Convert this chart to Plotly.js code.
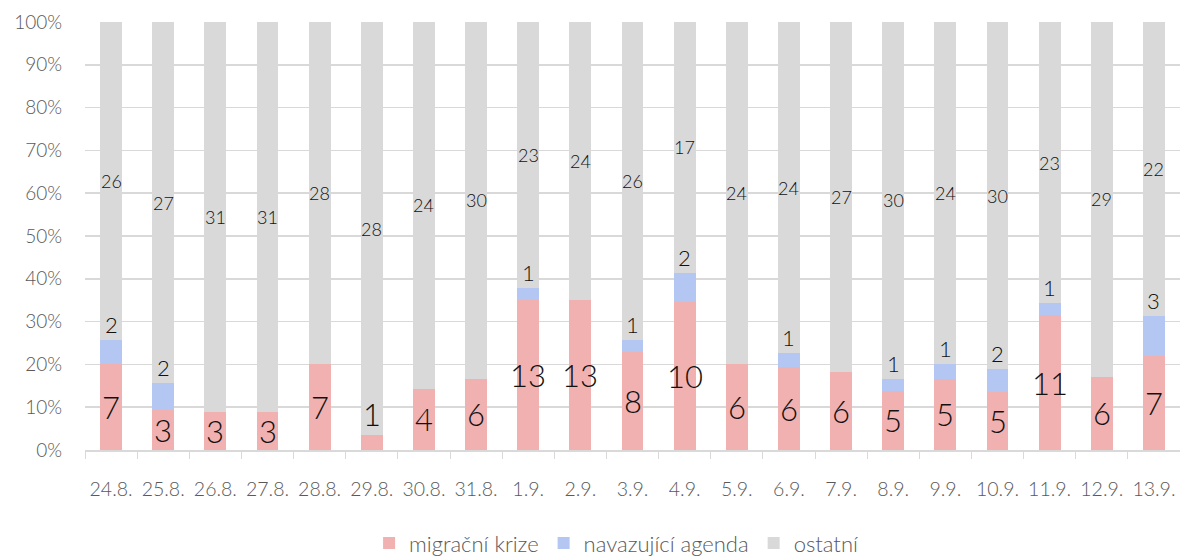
<!DOCTYPE html>
<html>
<head>
<meta charset="utf-8">
<script src="https://cdn.plot.ly/plotly-3.0.1.min.js"></script>
<style>html,body{margin:0;padding:0;background:#fff;}#chart{width:1180px;height:560px;}</style>
</head>
<body>
<div id="chart"></div>
<script>
const categories = ["24.8.","25.8.","26.8.","27.8.","28.8.","29.8.","30.8.","31.8.","1.9.","2.9.","3.9.","4.9.","5.9.","6.9.","7.9.","8.9.","9.9.","10.9.","11.9.","12.9.","13.9."];
const migracniKrize = [7,3,3,3,7,1,4,6,13,13,8,10,6,6,6,5,5,5,11,6,7];
const navazujiciAgenda = [2,2,0,0,0,0,0,0,1,0,1,2,0,1,0,1,1,2,1,0,3];
const ostatni = [26,27,31,31,28,28,24,30,23,24,26,17,24,24,27,30,24,30,23,29,22];

const font = 'Lato, "Open Sans", sans-serif';
const totals = categories.map((c,i)=>migracniKrize[i]+navazujiciAgenda[i]+ostatni[i]);
const pct = arr => arr.map((v,i)=>v/totals[i]*100);
const pM = pct(migracniKrize), pN = pct(navazujiciAgenda), pO = pct(ostatni);

const traces = [
  {type:'bar', name:'migrační krize', x:categories, y:pM, marker:{color:'#f2b1b1'}, hoverinfo:'skip'},
  {type:'bar', name:'navazující agenda', x:categories, y:pN, marker:{color:'#b3c7f2'}, hoverinfo:'skip'},
  {type:'bar', name:'ostatní', x:categories, y:pO, marker:{color:'#d9d9d9'}, hoverinfo:'skip'}
];

const annotations = [];
categories.forEach((c,i)=>{
  const small = pM[i] < 8;
  annotations.push({x:c, y: small ? pM[i] : pM[i]/2, yanchor: small ? 'bottom':'middle', text:String(migracniKrize[i]),
    showarrow:false, font:{family:font, size:31, color:'#111111', weight:300}});
  if (navazujiciAgenda[i] > 0) {
    annotations.push({x:c, y:pM[i]+pN[i], yanchor:'bottom', yshift:0, text:String(navazujiciAgenda[i]),
      showarrow:false, font:{family:font, size:22, color:'#111111', weight:300}});
  }
  annotations.push({x:c, y:pM[i]+pN[i]+pO[i]/2, yanchor:'middle', text:String(ostatni[i]),
    showarrow:false, font:{family:font, size:18, color:'#111111', weight:300}});
});

const layout = {
  width:1180, height:560,
  margin:{l:85, r:0, t:22, b:110},
  barmode:'stack',
  bargap:0.58,
  paper_bgcolor:'#fff', plot_bgcolor:'#fff',
  font:{family:font, color:'#595959', weight:300},
  xaxis:{type:'category', tickangle:0, tickfont:{size:19.5, color:'#595959', weight:300}, showline:true, linecolor:'#d9d9d9', linewidth:1.5,
    ticks:'outside', tickson:'boundaries', ticklen:7, tickcolor:'#d9d9d9', showgrid:false, ticklabelstandoff:21},
  yaxis:{range:[0,100], tickvals:[0,10,20,30,40,50,60,70,80,90,100], ticktext:['0%','10%','20%','30%','40%','50%','60%','70%','80%','90%','100%'],
    tickfont:{size:19, color:'#595959', weight:300}, showgrid:true, gridcolor:'#d9d9d9', gridwidth:1.5, zeroline:false, ticklen:0, ticks:'', automargin:false, ticklabelstandoff:22},
  legend:{orientation:'h', x:0.485, xanchor:'center', yref:'container', y:0.03, yanchor:'middle', font:{size:22, color:'#595959', weight:300}, traceorder:'normal', itemwidth:30},
  annotations:annotations,
  showlegend:true
};

Plotly.newPlot('chart', traces, layout, {displayModeBar:false, staticPlot:true});
</script>
</body>
</html>
